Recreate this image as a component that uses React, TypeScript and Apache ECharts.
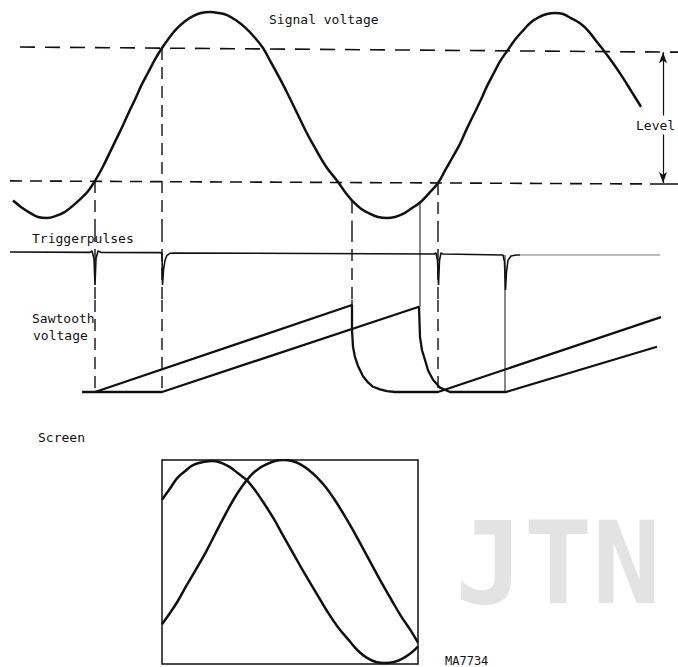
import React, { useEffect, useRef } from "react";
import * as echarts from "echarts";

// ---------------- data ----------------
// time axis: sweep-time units (1 unit = 1 screen pixel of the original drawing)

// Signal voltage, normalised (peak = 1)
const signalVoltage: [number, number][] = [
  [13, -0.83], [22, -0.9], [30, -0.95], [38, -0.99], [47, -1.0], [56, -0.98], [65, -0.94],
  [73, -0.88], [80, -0.82], [88, -0.74], [95, -0.64], [103, -0.5], [110, -0.36],
  [117, -0.22], [123, -0.1], [129, 0.03], [135, 0.15], [141, 0.28], [148, 0.41],
  [155, 0.54], [162, 0.65], [170, 0.76], [177, 0.84], [185, 0.91], [193, 0.96],
  [201, 0.99], [210, 1.0], [219, 0.99], [227, 0.97], [236, 0.92], [245, 0.85],
  [254, 0.76], [263, 0.65], [271, 0.51], [280, 0.35], [289, 0.18], [298, 0.0],
  [306, -0.16], [315, -0.32], [326, -0.5], [338, -0.65], [346, -0.76], [353, -0.84],
  [361, -0.91], [370, -0.96], [378, -0.99], [387, -1.0], [395, -0.99], [403, -0.96],
  [411, -0.91], [420, -0.85], [429, -0.76], [438, -0.66], [445, -0.54], [452, -0.42],
  [460, -0.28], [467, -0.13], [474, 0.01], [481, 0.15], [487, 0.28], [494, 0.41],
  [500, 0.52], [507, 0.62], [515, 0.73], [523, 0.82], [531, 0.9], [539, 0.95],
  [547, 0.98], [555, 0.99], [563, 0.98], [571, 0.94], [580, 0.89], [588, 0.82],
  [596, 0.72], [605, 0.61], [614, 0.49], [623, 0.36], [632, 0.22], [641, 0.08],
];

// trigger levels (dashed)
const upperLevel: [number, number][] = [[20, 0.66], [678, 0.61]];
const lowerLevel: [number, number][] = [[10, -0.64], [660, -0.67]];
const lowerLevelTail: [number, number][] = [[660, -0.67], [678, -0.67]];
const levelArrow = { t: 663, from: 0.61, to: -0.66 };

// Trigger pulses
const triggerTrace: [number, number][] = [
  [10, 0], [90, -0.01], [92, 0.03], [94, -0.2], [95, -1.0], [96, -0.2], [98, 0.03], [101, -0.01],
  [160, -0.02], [162, -0.03], [162.5, -1.0], [163.5, -0.55], [165, -0.25], [167, -0.1], [170, -0.04], [174, -0.03],
  [434, -0.06], [436, -0.03], [437.5, -0.25], [438.5, -1.0], [439.5, -0.25], [441, -0.03], [443, -0.06],
  [503, -0.09], [504.5, -0.3], [505.5, -1.15], [506.5, -0.6], [508, -0.25], [511, -0.12], [516, -0.09], [520, -0.09],
];
const triggerTail: [number, number][] = [[520, -0.09], [660, -0.09]];

// Sawtooth voltages (normalised, full sweep = 1)
const sawtoothA: [number, number][] = [
  [82, 0], [95, 0], [352, 1.0], [352, 0.71], [353, 0.52], [355, 0.4], [358, 0.3],
  [363, 0.18], [368, 0.11], [373, 0.06], [380, 0.03], [387, 0.01], [395, 0],
  [438, 0], [661, 0.86],
];
const sawtoothB: [number, number][] = [
  [95, 0], [162, 0], [419, 0.98], [420, 0.63], [422, 0.48], [425, 0.37], [428, 0.25],
  [433, 0.14], [440, 0.05], [450, 0], [506, 0], [657, 0.52],
];

// projection lines: time, start panel/value, end panel/value
// panels: 0 = signal, 1 = trigger, 2 = sawtooth
const guides = [
  { t: 95, p0: 0, v0: -0.64, p1: 2, v1: 0, dashed: true },
  { t: 162, p0: 0, v0: 0.65, p1: 2, v1: 0, dashed: true },
  { t: 352, p0: 0, v0: -0.84, p1: 2, v1: 1.0, dashed: true },
  { t: 420, p0: 0, v0: -0.85, p1: 2, v1: 0.98, dashed: false },
  { t: 438, p0: 0, v0: -0.66, p1: 2, v1: 0, dashed: true },
  { t: 505, p0: 1, v0: -0.09, p1: 2, v1: 0, dashed: false },
];

// Screen traces: [time from sweep start, volts]
const screenA: [number, number][] = [
  [0, 0.61], [8, 0.72], [15, 0.82], [23, 0.89], [31, 0.95], [41, 0.98], [51, 0.99],
  [60, 0.97], [68, 0.93], [76, 0.87], [85, 0.8], [94, 0.69], [103, 0.56], [112, 0.42],
  [121, 0.26], [132, 0.07], [143, -0.12], [154, -0.3], [165, -0.48], [176, -0.64],
  [188, -0.78], [196, -0.87], [205, -0.94], [214, -0.98], [223, -0.99], [232, -0.98],
  [240, -0.95], [248, -0.9], [256, -0.83],
];
const screenB: [number, number][] = [
  [0, -0.61], [8, -0.5], [16, -0.38], [24, -0.24], [33, -0.09], [44, 0.1], [55, 0.31],
  [63, 0.46], [72, 0.62], [80, 0.74], [88, 0.84], [96, 0.91], [105, 0.96], [113, 0.99],
  [121, 1.0], [130, 0.99], [138, 0.96], [147, 0.9], [155, 0.83], [164, 0.73],
  [172, 0.62], [181, 0.48], [190, 0.33], [200, 0.15], [210, -0.03], [220, -0.21],
  [230, -0.38], [239, -0.53], [248, -0.66], [256, -0.79],
];

// ---------------- layout ----------------
const W = 678;
const H = 667;
const INK = "#111";
const FONT = '"DejaVu Sans Mono", monospace';

// panel: pixel band, pixel of value 0, pixels per unit
const panels = [
  { top: 0, bottom: 230, zero: 115, unit: 103 },
  { top: 230, bottom: 300, zero: 252, unit: 33 },
  { top: 300, bottom: 400, zero: 392, unit: 87 },
].map((p) => ({
  ...p,
  max: (p.zero - p.top) / p.unit,
  min: (p.zero - p.bottom) / p.unit,
}));

const screenBox = { left: 162, top: 460, width: 256, height: 204 };

function lineSeries(data: any, grid: number, width: number, style: any = {}, extra: any = {}) {
  return {
    type: "line",
    xAxisIndex: grid,
    yAxisIndex: grid,
    data,
    symbol: "none",
    silent: true,
    lineStyle: { color: INK, width, ...style },
    ...extra,
  };
}

function buildOption() {
  const grids: any[] = panels.map((p) => ({
    left: 0,
    top: p.top,
    width: W,
    height: p.bottom - p.top,
    outerBoundsMode: "none",
  }));
  grids.push({
    ...screenBox,
    show: true,
    borderColor: INK,
    borderWidth: 1.5,
    backgroundColor: "transparent",
    outerBoundsMode: "none",
  });

  const xAxis: any[] = panels.map((_, i) => ({
    type: "value", gridIndex: i, min: 0, max: W, show: false,
  }));
  xAxis.push({ type: "value", gridIndex: 3, min: 0, max: screenBox.width, show: false });

  const yAxis: any[] = panels.map((p, i) => ({
    type: "value", gridIndex: i, min: p.min, max: p.max, show: false,
  }));
  yAxis.push({ type: "value", gridIndex: 3, min: -1, max: 1, show: false });

  const series: any[] = [];

  // signal
  series.push(lineSeries(signalVoltage, 0, 2.5, {}, { smooth: 0.4, z: 5 }));
  // levels
  series.push(
    lineSeries(upperLevel, 0, 1.6, { type: [15, 10] }, {
      markLine: {
        silent: true,
        symbol: ["arrow", "arrow"],
        symbolSize: [6, 11],
        label: { show: false },
        lineStyle: { color: INK, width: 1.2, type: "solid" },
        data: [[{ coord: [levelArrow.t, levelArrow.from] }, { coord: [levelArrow.t, levelArrow.to] }]],
      },
    })
  );
  series.push(lineSeries(lowerLevel, 0, 1.6, { type: [12, 8] }));
  series.push(lineSeries(lowerLevelTail, 0, 1.4));

  // trigger pulses
  series.push(lineSeries(triggerTrace, 1, 1.6));
  series.push(lineSeries(triggerTail, 1, 1, { color: "#777" }));

  // sawtooth
  series.push(lineSeries(sawtoothA, 2, 2.3));
  series.push(lineSeries(sawtoothB, 2, 2.3));

  // projection lines
  guides.forEach((g) => {
    for (let p = g.p0; p <= g.p1; p++) {
      const top = p === g.p0 ? g.v0 : panels[p].max;
      const bottom = p === g.p1 ? g.v1 : panels[p].min;
      series.push(
        lineSeries([[g.t, top], [g.t, bottom]], p, g.dashed ? 1.4 : 1,
          { type: g.dashed ? [12, 7] : "solid" }, { z: 1 })
      );
    }
  });

  // screen
  series.push(lineSeries(screenA, 3, 2.5, {}, { smooth: 0.4 }));
  series.push(lineSeries(screenB, 3, 2.5, {}, { smooth: 0.4 }));

  const txt = (text: string, x: number, y: number, size = 13, extra: any = {}) => ({
    type: "text",
    x,
    y,
    z: 50,
    style: {
      text,
      fill: INK,
      fontFamily: FONT,
      fontSize: size,
      verticalAlign: "middle",
      align: "left",
      ...extra,
    },
  });

  const graphic: any[] = [
    { ...txt("JTN", 455, 563, 114, { fill: "#e3e3e3", fontWeight: "bold" }), z: -10 },
    txt("Signal voltage", 269, 19),
    txt("Level", 636, 125, 13, { backgroundColor: "#fff", padding: [3, 0, 3, 0] }),
    txt("Triggerpulses", 32, 238),
    txt("Sawtooth", 32, 318),
    txt("voltage", 33, 335),
    txt("Screen", 38, 437),
    txt("MA7734", 445, 661, 12),
  ];

  return {
    animation: false,
    backgroundColor: "#fff",
    grid: grids,
    xAxis,
    yAxis,
    series,
    graphic,
  };
}

export default function App() {
  const ref = useRef<HTMLDivElement>(null);
  useEffect(() => {
    if (!ref.current) return;
    const chart = echarts.init(ref.current, null, { renderer: "svg" });
    chart.setOption(buildOption() as any);
    return () => chart.dispose();
  }, []);
  return (
    <div
      ref={ref}
      style={{ position: "fixed", left: 0, top: 0, width: W, height: H, background: "#fff" }}
    />
  );
}
